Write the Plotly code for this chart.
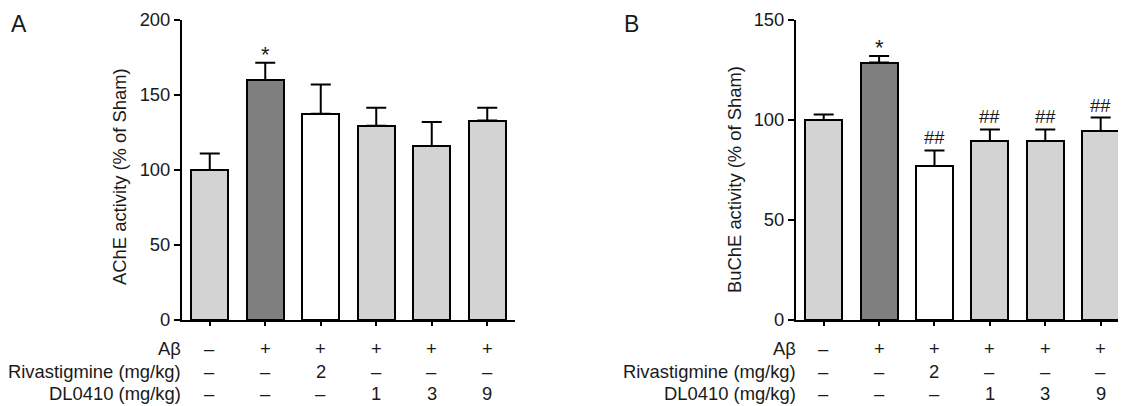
import plotly.graph_objects as go

# ---------------- data ----------------
groups = [0, 1, 2, 3, 4, 5]
ache_mean = [100, 160, 137.5, 129.5, 116, 133]
ache_sem = [11, 11.5, 19.5, 12, 16, 8.5]
buche_mean = [100, 128.7, 77, 89.5, 89.5, 94.5]
buche_sem = [2.8, 3.3, 7.8, 5.8, 5.8, 6.7]
bar_colors = ['#d3d3d3', '#7f7f7f', '#ffffff', '#d3d3d3', '#d3d3d3', '#d3d3d3']
ache_sig = ['', '*', '', '', '', '']
buche_sig = ['', '*', '##', '##', '##', '##']
abeta = ['–', '+', '+', '+', '+', '+']
rivastigmine = ['–', '–', '2', '–', '–', '–']
dl0410 = ['–', '–', '–', '1', '3', '9']
row_names = ['Aβ', 'Rivastigmine (mg/kg)', 'DL0410 (mg/kg)']
ache_ticks = [0, 50, 100, 150, 200]
buche_ticks = [0, 50, 100, 150]

# page is 1126x406; the figure div sits 8px in from the page's top-left (body margin)
PAGE_W, PAGE_H, OFF = 1126, 406, 8
W, H = PAGE_W - OFF, PAGE_H - OFF
FONT = 'Liberation Sans, Arial, sans-serif'
TXT = '#1a1a1a'
FS = 18.4


def px(x):
    """page pixel x -> paper fraction"""
    return (x - OFF) / W


def py(y):
    """page pixel y -> paper fraction"""
    return (PAGE_H - y) / H


fig = go.Figure()

for mean, sem, xa, ya in [(ache_mean, ache_sem, 'x', 'y'), (buche_mean, buche_sem, 'x2', 'y2')]:
    fig.add_trace(go.Bar(
        x=groups, y=mean, width=0.67,
        marker=dict(color=bar_colors, line=dict(color='black', width=2)),
        error_y=dict(type='data', array=sem, arrayminus=[0] * len(sem), symmetric=False,
                     color='black', thickness=2, width=10),
        xaxis=xa, yaxis=ya, showlegend=False, hoverinfo='skip'))

ydom = [py(320), py(20)]
axis_common = dict(showline=True, linecolor='black', linewidth=2, ticks='outside',
                   tickcolor='black', tickwidth=2, showgrid=False, zeroline=False,
                   automargin=False)
yfont = dict(tickfont=dict(family=FONT, size=FS, color=TXT))

fig.update_layout(
    template='none',
    width=W, height=H, margin=dict(l=0, r=0, t=0, b=0, pad=0, autoexpand=False),
    paper_bgcolor='white', plot_bgcolor='white', bargap=0, showlegend=False,
    xaxis=dict(domain=[px(182), px(515)], range=[-0.5, 5.5], tickvals=groups,
               showticklabels=False, ticklen=4, anchor='y', **axis_common),
    yaxis=dict(domain=ydom, range=[0, 200], tickvals=ache_ticks, ticklen=6, anchor='x',
               **axis_common, **yfont),
    xaxis2=dict(domain=[px(796), 1.0], range=[-0.5, 5.457], tickvals=groups,
                showticklabels=False, ticklen=4, anchor='y2', **axis_common),
    yaxis2=dict(domain=ydom, range=[0, 150], tickvals=buche_ticks, ticklen=6, anchor='x2',
                **axis_common, **yfont),
)

ann = []
# significance marks
for sig, mean, sem, xr, yr in [(ache_sig, ache_mean, ache_sem, 'x', 'y'), (buche_sig, buche_mean, buche_sem, 'x2', 'y2')]:
    for i, s in enumerate(sig):
        if s:
            star = s == '*'
            ann.append(dict(x=groups[i], y=mean[i] + sem[i], xref=xr, yref=yr, text=s, showarrow=False,
                            xanchor='center', yanchor='bottom', yshift=-6 if star else 0,
                            font=dict(family=FONT, size=22 if star else FS, color=TXT)))

# treatment rows
row_y = [348, 371, 393]
for xr, label_right in [('x', 183), ('x2', 798)]:
    for r, vals in enumerate([abeta, rivastigmine, dl0410]):
        ann.append(dict(x=px(label_right), y=py(row_y[r]), xref='paper', yref='paper', text=row_names[r],
                        showarrow=False, xanchor='right', yanchor='middle',
                        font=dict(family=FONT, size=FS, color=TXT)))
        for i, v in enumerate(vals):
            ann.append(dict(x=groups[i], y=py(row_y[r]), xref=xr, yref='paper', text=v,
                            showarrow=False, xanchor='center', yanchor='middle',
                            font=dict(family=FONT, size=FS, color=TXT)))

# axis titles
ann.append(dict(x=px(119), y=py(177), xref='paper', yref='paper', text='AChE activity (% of Sham)',
                textangle=-90, showarrow=False, xanchor='center', yanchor='middle',
                font=dict(family=FONT, size=FS, color=TXT)))
ann.append(dict(x=px(734), y=py(180), xref='paper', yref='paper', text='BuChE activity (% of Sham)',
                textangle=-90, showarrow=False, xanchor='center', yanchor='middle',
                font=dict(family=FONT, size=FS, color=TXT)))

# panel letters
ann.append(dict(x=px(9), y=py(9), xref='paper', yref='paper', text='A', showarrow=False,
                xanchor='left', yanchor='top', font=dict(family=FONT, size=23, color=TXT)))
ann.append(dict(x=px(622), y=py(9), xref='paper', yref='paper', text='B', showarrow=False,
                xanchor='left', yanchor='top', font=dict(family=FONT, size=23, color=TXT)))

fig.update_layout(annotations=ann)
fig.write_html('out.html')
